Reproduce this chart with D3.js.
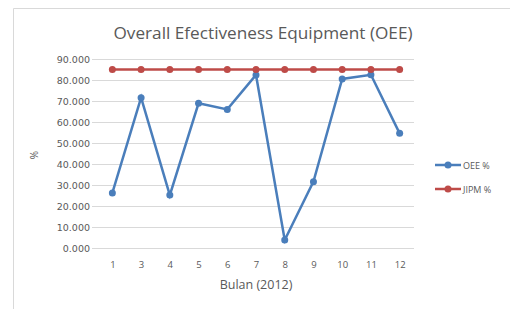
<!DOCTYPE html>
<html>
<head>
<meta charset="utf-8">
<script src="https://cdn.jsdelivr.net/npm/d3@7"></script>
<style>
  body { margin: 0; background: #fff; }
  text { font-family: "Open Sans", "DejaVu Sans", sans-serif; fill: #595959; }
</style>
</head>
<body>
<div id="chart-container"></div>
<script>
const months = ["1", "3", "4", "5", "6", "7", "8", "9", "10", "11", "12"];
const oee = [26.2, 71.6, 25.2, 68.9, 66.0, 82.4, 3.8, 31.6, 80.5, 82.5, 54.6];
const jipm = [85, 85, 85, 85, 85, 85, 85, 85, 85, 85, 85];
const yTicks = [0, 10, 20, 30, 40, 50, 60, 70, 80, 90];

const W = 510, H = 309;
const margin = { top: 59, right: 96, bottom: 61, left: 98 };
const width = W - margin.left - margin.right;
const height = H - margin.top - margin.bottom;

const svg = d3.select("#chart-container")
  .append("svg")
  .attr("width", W)
  .attr("height", H);

// outer chart border (only top and left edges visible in the crop)
svg.append("path")
  .attr("d", "M13.5,309 L13.5,8.5 L510,8.5")
  .attr("fill", "none")
  .attr("stroke", "#d9d9d9");

svg.append("text")
  .attr("x", 263)
  .attr("y", 39)
  .attr("text-anchor", "middle")
  .style("font-size", "17.2px")
  .text("Overall Efectiveness Equipment (OEE)");

const g = svg.append("g")
  .attr("transform", `translate(${margin.left}, ${margin.top})`);

const x = d3.scalePoint().domain(months).range([0, width]).padding(0.5);
const y = d3.scaleLinear().domain([0, 90]).range([height, 0]);

// gridlines
g.append("g")
  .selectAll("line")
  .data(yTicks)
  .join("line")
  .attr("x1", -6)
  .attr("x2", width)
  .attr("y1", d => Math.round(y(d)) + 0.5)
  .attr("y2", d => Math.round(y(d)) + 0.5)
  .attr("stroke", "#d9d9d9");

const yAxis = g.append("g")
  .call(d3.axisLeft(y).tickValues(yTicks).tickSize(0).tickPadding(8)
    .tickFormat(d => d3.format(".3f")(d)));
yAxis.select(".domain").remove();
yAxis.selectAll("text")
  .style("font-size", "9.5px")
  .style("font-family", "DejaVu Sans, sans-serif")
  .attr("fill", "#595959");

const xAxis = g.append("g")
  .attr("transform", `translate(0, ${height})`)
  .call(d3.axisBottom(x).tickSize(0).tickPadding(13));
xAxis.select(".domain").remove();
xAxis.selectAll("text")
  .style("font-size", "9.5px")
  .attr("fill", "#595959");

svg.append("text")
  .attr("x", margin.left + width / 2)
  .attr("y", 289)
  .attr("text-anchor", "middle")
  .style("font-size", "12.5px")
  .text("Bulan (2012)");

svg.append("text")
  .attr("transform", "translate(38, 155) rotate(-90)")
  .attr("text-anchor", "middle")
  .style("font-size", "10px")
  .text("%");

const line = d3.line()
  .x((d, i) => x(months[i]))
  .y(d => y(d));

const series = [
  { name: "OEE %", values: oee, color: "#4a7ebb" },
  { name: "JIPM %", values: jipm, color: "#be4b48" }
];

series.forEach(s => {
  g.append("path")
    .datum(s.values)
    .attr("fill", "none")
    .attr("stroke", s.color)
    .attr("stroke-width", 2.5)
    .attr("d", line);
  g.selectAll(null)
    .data(s.values)
    .join("circle")
    .attr("cx", (d, i) => x(months[i]))
    .attr("cy", d => y(d))
    .attr("r", 3.5)
    .attr("fill", s.color);
});

// legend
const legend = svg.append("g").attr("transform", "translate(435, 165)");
series.forEach((s, i) => {
  const row = legend.append("g").attr("transform", `translate(0, ${i * 24})`);
  row.append("line")
    .attr("x1", 0).attr("x2", 26)
    .attr("stroke", s.color).attr("stroke-width", 2.5);
  row.append("circle").attr("cx", 13).attr("r", 3.5).attr("fill", s.color);
  row.append("text")
    .attr("x", 28).attr("y", 3.5)
    .style("font-size", "9px")
    .text(s.name);
});
</script>
</body>
</html>
